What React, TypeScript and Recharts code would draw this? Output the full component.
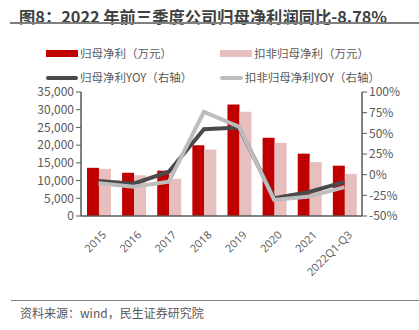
import {
  ComposedChart,
  Bar,
  Line,
  XAxis,
  YAxis,
} from 'recharts'

const years = ['2015', '2016', '2017', '2018', '2019', '2020', '2021', '2022Q1-Q3']
const netProfit = [13600, 12200, 12800, 20000, 31500, 22100, 17600, 14200]
const deductedProfit = [13300, 11500, 10500, 18800, 29400, 20700, 15200, 11900]
const netProfitYoy = [-7.6, -10.9, 3.6, 55, 57, -28.5, -21, -8.78]
const deductedYoy = [-10.5, -14.5, -8.5, 76, 58, -30.5, -26.5, -15]
const leftTicks = [0, 5000, 10000, 15000, 20000, 25000, 30000, 35000]
const rightTicks = [-50, -25, 0, 25, 50, 75, 100]
const boundaryTicks = [0, 1, 2, 3, 4, 5, 6, 7, 8]

const data = years.map((y, i) => ({
  year: y,
  np: netProfit[i],
  dp: deductedProfit[i],
  npy: netProfitYoy[i],
  dpy: deductedYoy[i],
}))

const FONT = "'Noto Sans CJK SC', 'Noto Sans', sans-serif"
const TICK_FONT = "'Open Sans', 'Noto Sans', sans-serif"
const TEXT = '#595959'
const AXIS = '#595959'

function LegendItem({ color, label, line, width }: { color: string; label: string; line?: boolean; width: number }) {
  return (
    <div style={{ display: 'flex', alignItems: 'center', width }}>
      <div style={{
        width: 32,
        height: line ? 4 : 7,
        background: color,
        borderRadius: line ? 2 : 0,
        marginRight: 2,
      }} />
      <span style={{ whiteSpace: 'nowrap' }}>{label}</span>
    </div>
  )
}

export default function App() {
  return (
    <div style={{
      position: 'absolute', left: 0, top: 0, width: 419, height: 330,
      background: '#fff', fontFamily: FONT, color: TEXT, overflow: 'hidden',
    }}>
      <div style={{
        position: 'absolute', left: 19, top: 4, fontSize: 16.3, fontWeight: 700,
        color: '#404040', whiteSpace: 'nowrap',
      }}>
        图8：2022 年前三季度公司归母净利润同比-8.78%
      </div>
      <div style={{ position: 'absolute', left: 10, right: 0, top: 22, height: 2, background: '#7f7f7f' }} />

      <div style={{ position: 'absolute', left: 46, top: 45, fontSize: 11.5, lineHeight: '17px' }}>
        <div style={{ display: 'flex' }}>
          <LegendItem color="#C00000" label="归母净利（万元）" width={174} />
          <LegendItem color="#E8BFBF" label="扣非归母净利（万元）" width={160} />
        </div>
        <div style={{ display: 'flex', marginTop: 7 }}>
          <LegendItem color="#4a4a4a" label="归母净利YOY（右轴）" line width={174} />
          <LegendItem color="#BDBDBD" label="扣非归母净利YOY（右轴）" line width={160} />
        </div>
      </div>

      <div style={{ position: 'absolute', left: 0, top: 0 }}>
        <ComposedChart
          width={419}
          height={330}
          data={data}
          margin={{ top: 92, right: 0, bottom: 39, left: 0 }}
          barCategoryGap="17%"
          barGap={0}
        >
          <XAxis
            dataKey="year"
            xAxisId="cat"
            interval={0}
            axisLine={{ stroke: AXIS, strokeWidth: 1.5 }}
            tickLine={false}
            angle={-45}
            textAnchor="end"
            tick={{ fill: TEXT, fontSize: 11, fontFamily: TICK_FONT, dx: 3, dy: 6 }}
            height={75}
          />
          <XAxis
            xAxisId="grid"
            type="number"
            domain={[0, 8]}
            ticks={boundaryTicks}
            allowDataOverflow
            axisLine={false}
            tickLine={{ stroke: AXIS }}
            tickSize={4}
            tick={false}
            height={0}
          />
          <YAxis
            yAxisId="left"
            domain={[0, 35000]}
            ticks={leftTicks}
            interval={0}
            tickFormatter={(v: number) => v.toLocaleString('en-US')}
            axisLine={{ stroke: AXIS, strokeWidth: 1.5 }}
            tickLine={{ stroke: AXIS }}
            tickSize={5}
            width={81}
            tick={{ fill: TEXT, fontSize: 12, fontFamily: FONT }}
          />
          <YAxis
            yAxisId="right"
            orientation="right"
            domain={[-50, 100]}
            ticks={rightTicks}
            interval={0}
            tickFormatter={(v: number) => `${v}%`}
            axisLine={{ stroke: AXIS, strokeWidth: 1.5 }}
            tickLine={{ stroke: AXIS }}
            tickSize={5}
            width={57}
            tick={{ fill: TEXT, fontSize: 12, fontFamily: FONT }}
          />
          <Bar xAxisId="cat" yAxisId="left" dataKey="np" fill="#C00000" isAnimationActive={false} />
          <Bar xAxisId="cat" yAxisId="left" dataKey="dp" fill="#E8BFBF" isAnimationActive={false} />
          <Line
            xAxisId="cat"
            yAxisId="right"
            dataKey="npy"
            stroke="#4a4a4a"
            strokeWidth={4}
            dot={false}
            type="linear"
            isAnimationActive={false}
          />
          <Line
            xAxisId="cat"
            yAxisId="right"
            dataKey="dpy"
            stroke="#BDBDBD"
            strokeWidth={4}
            dot={false}
            type="linear"
            isAnimationActive={false}
          />
        </ComposedChart>
      </div>

      <div style={{ position: 'absolute', left: 11, right: 0, top: 300, height: 1, background: '#7f7f7f' }} />
      <div style={{ position: 'absolute', left: 20, top: 304, fontSize: 12, whiteSpace: 'nowrap' }}>
        资料来源：wind，民生证券研究院
      </div>
    </div>
  )
}
